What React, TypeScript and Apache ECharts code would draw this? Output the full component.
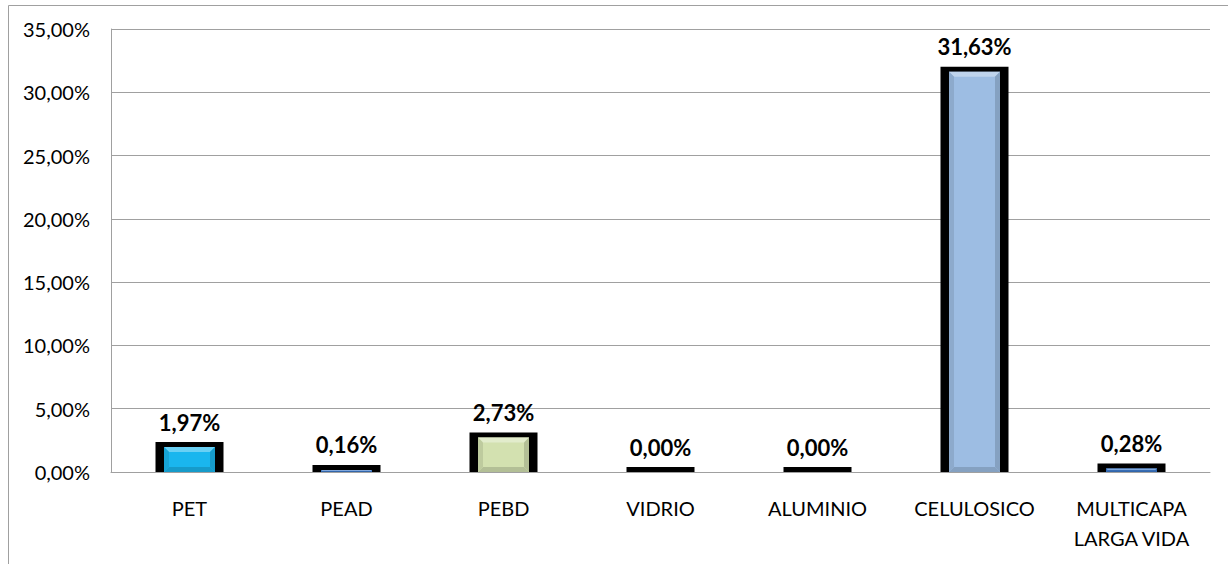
import React, { useEffect, useRef } from "react";
import * as echarts from "echarts";

const categories = ["PET", "PEAD", "PEBD", "VIDRIO", "ALUMINIO", "CELULOSICO", "MULTICAPA\nLARGA VIDA"];
const values = [1.97, 0.16, 2.73, 0.0, 0.0, 31.63, 0.28];
const barColors = ["#1ab6ee", "#3b78c9", "#d3e1b0", "#000000", "#000000", "#9dbde3", "#3b78c9"];
const yTicks = { min: 0, max: 35, interval: 5 };

const fmt = (v: number) => v.toFixed(2).replace(".", ",") + "%";

function mix(hex: string, target: number, t: number) {
  const n = parseInt(hex.slice(1), 16);
  const r = (n >> 16) & 255, g = (n >> 8) & 255, b = n & 255;
  const m = (c: number) => Math.round(c + (target - c) * t);
  return `rgb(${m(r)},${m(g)},${m(b)})`;
}

export default function App() {
  const ref = useRef<HTMLDivElement>(null);
  useEffect(() => {
    if (!ref.current) return;
    const chart = echarts.init(ref.current, undefined, { renderer: "svg" });
    const renderItem = (params: any, api: any) => {
      const idx = api.value(0);
      const v = api.value(1);
      const top = api.coord([idx, v]);
      const base = api.coord([idx, 0]);
      const cx = top[0];
      const outerW = 68, innerW = 51, topBorder = 5;
      const color = barColors[idx];
      const x0 = cx - innerW / 2, x1 = cx + innerW / 2;
      const y0 = top[1], y1 = base[1];
      const h = y1 - y0;
      const children: any[] = [
        {
          type: "rect",
          shape: { x: cx - outerW / 2, y: y0 - topBorder, width: outerW, height: h + topBorder },
          style: { fill: "#000" },
        },
      ];
      if (h > 0.5) {
        children.push({
          type: "rect",
          shape: { x: x0, y: y0, width: innerW, height: h },
          style: { fill: color },
        });
        const b = Math.min(5, h / 2);
        children.push(
          {
            type: "polygon",
            shape: { points: [[x0, y0], [x1, y0], [x1 - b, y0 + b], [x0 + b, y0 + b]] },
            style: { fill: mix(color, 255, 0.35) },
          },
          {
            type: "polygon",
            shape: { points: [[x0, y1], [x1, y1], [x1 - b, y1 - b], [x0 + b, y1 - b]] },
            style: { fill: mix(color, 0, 0.15) },
          },
          {
            type: "polygon",
            shape: { points: [[x0, y0], [x0 + b, y0 + b], [x0 + b, y1 - b], [x0, y1]] },
            style: { fill: mix(color, 0, 0.1) },
          },
          {
            type: "polygon",
            shape: { points: [[x1, y0], [x1 - b, y0 + b], [x1 - b, y1 - b], [x1, y1]] },
            style: { fill: mix(color, 0, 0.15) },
          }
        );
      }
      children.push({
        type: "text",
        x: cx,
        y: y0 - topBorder - 20,
        style: {
          text: fmt(v),
          align: "center",
          verticalAlign: "middle",
          fontFamily: "Lato",
          fontWeight: "bold",
          fontSize: 22,
          fill: "#000",
        },
      });
      return { type: "group", children };
    };
    chart.setOption({
      animation: false,
      backgroundColor: "#ffffff",
      grid: { left: 111, right: 18, top: 29, bottom: 92, containLabel: false },
      graphic: [
        {
          type: "polyline",
          shape: { points: [[8.5, 600], [8.5, 5.5], [1240, 5.5]] },
          style: { fill: "none", stroke: "#a0a0a0", lineWidth: 1 },
          silent: true,
        },
      ],
      xAxis: {
        type: "category",
        data: categories,
        axisLine: { show: true, lineStyle: { color: "#a0a0a0", width: 1 } },
        axisTick: { show: false },
        axisLabel: {
          interval: 0,
          margin: 21,
          color: "#000",
          fontFamily: "Lato",
          fontSize: 20,
          lineHeight: 30,
        },
      },
      yAxis: {
        type: "value",
        min: yTicks.min,
        max: yTicks.max,
        interval: yTicks.interval,
        axisLine: { show: true, lineStyle: { color: "#a0a0a0", width: 1 } },
        axisTick: { show: false },
        splitLine: { show: true, lineStyle: { color: "#a0a0a0", width: 1 } },
        axisLabel: {
          margin: 21,
          color: "#000",
          fontFamily: "Lato",
          fontSize: 20,
          formatter: (v: number) => fmt(v),
        },
      },
      series: [
        {
          type: "custom",
          coordinateSystem: "cartesian2d",
          renderItem,
          encode: { x: 0, y: 1 },
          data: values.map((v, i) => [i, v]),
        },
      ],
    });
    return () => chart.dispose();
  }, []);
  return (
    <div
      ref={ref}
      style={{ position: "absolute", left: 0, top: 0, width: 1228, height: 564 }}
    />
  );
}
